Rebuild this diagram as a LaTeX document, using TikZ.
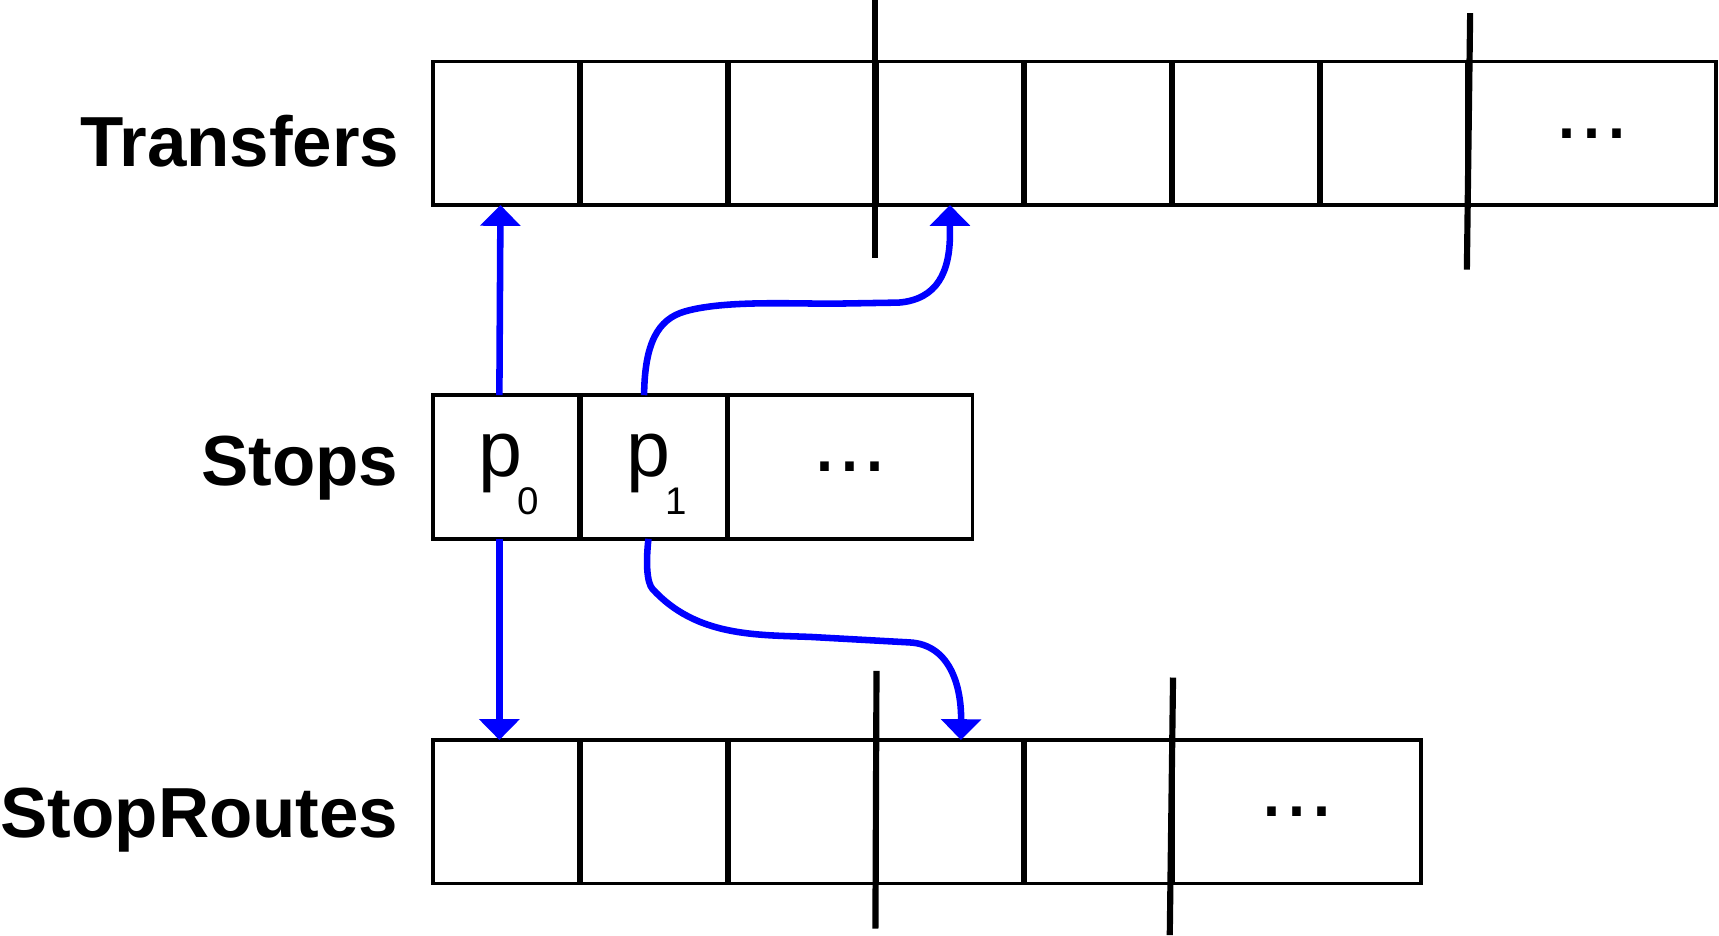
\documentclass[tikz,border=0pt]{standalone}
\usepackage{fontspec}
\setmainfont{Liberation Sans}
\usepackage{tikz}
\usetikzlibrary{arrows.meta,calc}
\definecolor{ptrblue}{RGB}{0,0,255}
\newcommand{\stopidx}[1]{\kern0.05cm{\fontsize{20.5}{20.5}\selectfont p}\kern-0.04cm\raisebox{-0.34cm}{\fontsize{10}{10}\selectfont #1}}
\tikzset{
  cell/.style={draw=black,line width=0.95pt,minimum width=1.33cm,minimum height=1.31cm,inner sep=0pt,outer sep=0pt},
  pcell/.style={cell,text height=0.5cm,text depth=0.32cm},
  dotcell/.style={cell,font=\fontsize{23.3}{23.3}\selectfont},
  rowlabel/.style={anchor=base east,inner sep=0pt,font=\fontsize{18.4}{18.4}\selectfont\bfseries},
  sepline/.style={draw=black,line width=1.6pt},
  ptr/.style={-{Triangle[width=0.36cm,length=0.19cm]},draw=ptrblue,line width=1.7pt}
}

\begin{document}
\begin{tikzpicture}
  \useasboundingbox (0,0) rectangle (15.68,8.53);
  % row labels
  \node[rowlabel] (ltransfers) at (3.65,7.01) {Transfers};
  \node[rowlabel] (lstops) at (3.64,4.10) {Stops};
  \node[rowlabel] (lroutes) at (3.64,0.89) {StopRoutes};

  % Transfers
  \node[cell] (t1) at (4.615,7.315) {};
  \node[cell] (t2) at (5.965,7.315) {};
  \node[cell] (t3) at (7.315,7.315) {};
  \node[cell] (t4) at (8.665,7.315) {};
  \node[cell] (t5) at (10.015,7.315) {};
  \node[cell] (t6) at (11.365,7.315) {};
  \node[cell] (t7) at (12.715,7.315) {};
  \node[dotcell,minimum width=2.25cm] (t8) at (14.525,7.315) {...};

  % Stops
  \node[pcell] (p0) at (4.615,4.27) {\stopidx{0}};
  \node[pcell] (p1) at (5.965,4.27) {\stopidx{1}};
  \node[dotcell,minimum width=2.23cm] (s3) at (7.755,4.27) {...};

  % StopRoutes
  \node[cell] (r1) at (4.615,1.125) {};
  \node[cell] (r2) at (5.965,1.125) {};
  \node[cell] (r3) at (7.315,1.125) {};
  \node[cell] (r4) at (8.665,1.125) {};
  \node[cell] (r5) at (10.015,1.125) {};
  \node[dotcell,minimum width=2.26cm] (r6) at (11.83,1.125) {...};

  % stop boundaries
  \draw[sepline] ($(t3.north east)+(0.005,0.56)$) -- ($(t3.south east)+(0.005,-0.48)$);
  \draw[sepline] ($(t7.north east)+(0.03,0.44)$) -- ($(t7.south east)+(0,-0.59)$);
  \draw[sepline] ($(r3.north east)+(0.015,0.63)$) -- ($(r3.south east)+(0.005,-0.41)$);
  \draw[sepline] ($(r5.north east)+(0.02,0.57)$) -- ($(r5.south east)+(-0.01,-0.47)$);

  % pointers
  \draw[ptr] ([xshift=-0.06cm]p0.north) -- ([xshift=-0.05cm]t1.south);
  \draw[ptr] ([xshift=-0.06cm]p0.south) -- ([xshift=-0.06cm]r1.south |- r1.north);
  \draw[ptr] ([xshift=-0.09cm]p1.north)
    .. controls (5.88,5.4) and (6.0,5.62) .. (6.25,5.69)
    .. controls (6.6,5.79) and (7.2,5.76) .. (7.6,5.76)
    -- (8.2,5.77)
    .. controls (8.55,5.8) and (8.665,6.05) .. (8.665,6.4)
    -- (t4.south);
  \draw[ptr] ([xshift=-0.05cm]p1.south)
    .. controls (5.89,3.4) and (5.9,3.22) .. (5.95,3.16)
    .. controls (6.35,2.72) and (6.9,2.74) .. (7.4,2.72)
    -- (8.3,2.67)
    .. controls (8.65,2.65) and (8.77,2.3) .. ([xshift=0.1cm]r4.north);
\end{tikzpicture}
\end{document}
